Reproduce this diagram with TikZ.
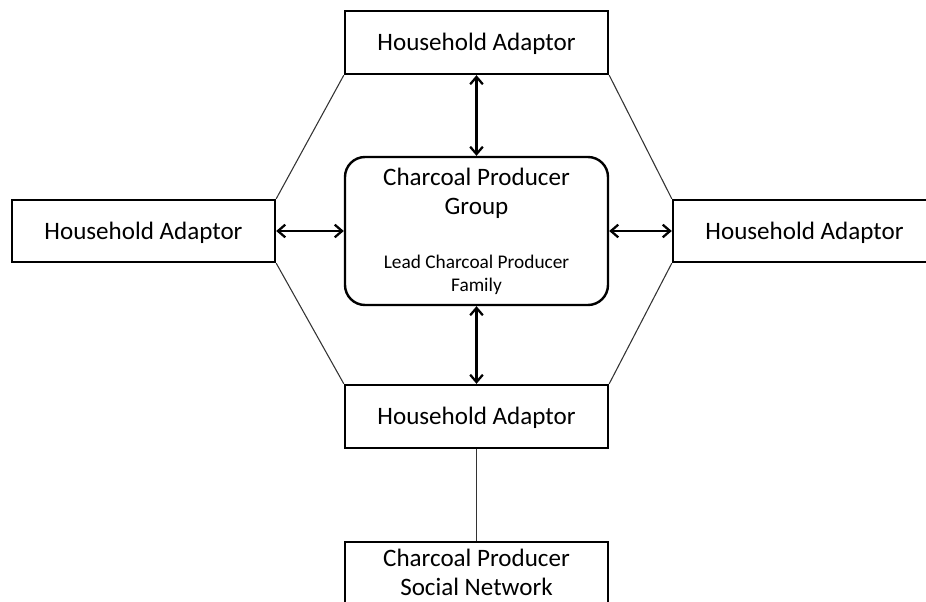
\documentclass[tikz,border=0pt]{standalone}
\usepackage{fontspec}
\setmainfont{Carlito}
\usetikzlibrary{arrows.meta}

\tikzset{
  box/.style={draw=black, line width=1.8pt, minimum width=197.25pt, inner sep=0pt, fill=white},
  hub/.style={box, rounded corners=15pt},
  big/.style={font=\fontsize{18.8}{21.75}\selectfont, align=center, anchor=base, inner sep=0pt},
  small/.style={font=\fontsize{14.5}{17.25}\selectfont, align=center, anchor=base, inner sep=0pt},
  link/.style={draw=black!80, line width=0.8pt},
  twoway/.style={line width=1.7pt, {Straight Barb[length=5.5pt,width=9.5pt]}-{Straight Barb[length=5.5pt,width=9.5pt]}}
}

\begin{document}
\begin{tikzpicture}[x=0.75pt, y=-0.75pt]
  \useasboundingbox (0,0) rectangle (926,602);
  \clip (0,0) rectangle (926,602);

  % boxes
  \node[box, minimum height=47.25pt] (top)    at (476.5, 42.5) {};
  \node[hub, minimum height=111pt]   (group)  at (476.5, 231)  {};
  \node[box, minimum height=46.5pt]  (left)   at (143.5, 231)  {};
  \node[box, minimum height=46.5pt]  (right)  at (804.5, 231)  {};
  \node[box, minimum height=47.25pt] (bottom) at (476.5, 416.5) {};
  \node[box, minimum height=47.25pt] (social) at (476.5, 573.5) {};

  % outer ring joining the four adaptors
  \draw[link] (top.south west) -- (left.north east);
  \draw[link] (top.south east) -- (right.north west);
  \draw[link] (left.south east) -- (bottom.north west);
  \draw[link] (right.south west) -- (bottom.north east);
  \draw[link] (bottom.south) -- (social.north);

  % two-way links to the producer group
  \draw[twoway] (top.south) -- (group.north);
  \draw[twoway] (group.south) -- (bottom.north);
  \draw[twoway] (left.east) -- (group.west);
  \draw[twoway] (group.east) -- (right.west);

  % labels (base anchor sits on the last line of each label)
  \node[big] (toptxt)    at (476.5, 51)  {Household Adaptor};
  \node[big] (lefttxt)   at (143.5, 240) {Household Adaptor};
  \node[big] (righttxt)  at (804.5, 240) {Household Adaptor};
  \node[big] (bottomtxt) at (476.5, 425) {Household Adaptor};
  \node[big] (grouptxt)  at (476.5, 215) {Charcoal Producer\\Group};
  \node[small] (leadtxt) at (476.5, 292) {Lead Charcoal Producer\\Family};
  \node[big] (socialtxt) at (476.5, 595) {Charcoal Producer\\Social Network};
\end{tikzpicture}
\end{document}
